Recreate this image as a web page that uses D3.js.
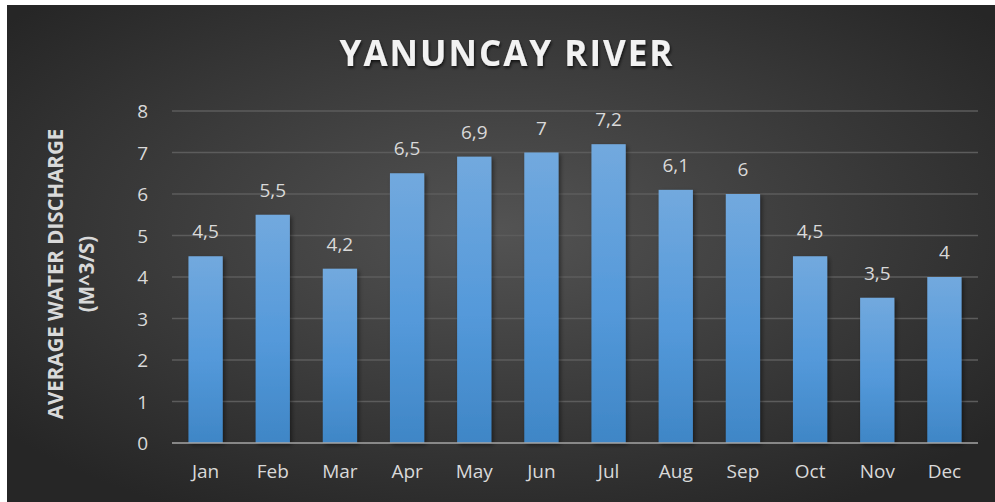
<!DOCTYPE html>
<html>
<head>
<meta charset="utf-8">
<script src="https://cdn.jsdelivr.net/npm/d3@7"></script>
<style>
  html, body { margin: 0; padding: 0; background: #fff; }
  svg { display: block; }
</style>
</head>
<body>
<script>
const months = ['Jan', 'Feb', 'Mar', 'Apr', 'May', 'Jun', 'Jul', 'Aug', 'Sep', 'Oct', 'Nov', 'Dec'];
const discharge = [4.5, 5.5, 4.2, 6.5, 6.9, 7, 7.2, 6.1, 6, 4.5, 3.5, 4];
const yTicks = [0, 1, 2, 3, 4, 5, 6, 7, 8];

const width = 995, height = 502;
const plot = { left: 172, right: 978, top: 111, bottom: 443 };
const font = "'Open Sans', 'Liberation Sans', sans-serif";

const svg = d3.select('body').append('svg')
    .attr('width', width)
    .attr('height', height);

const defs = svg.append('defs');
// panel background, lighter in the middle
const bg = defs.append('radialGradient')
    .attr('id', 'bg')
    .attr('cx', '50%').attr('cy', '45%').attr('r', '65%');
bg.append('stop').attr('offset', '0%').attr('stop-color', '#535353');
bg.append('stop').attr('offset', '100%').attr('stop-color', '#262626');

const barGrad = defs.append('linearGradient')
    .attr('id', 'bar')
    .attr('x1', 0).attr('y1', 0).attr('x2', 0).attr('y2', 1);
barGrad.append('stop').attr('offset', '0%').attr('stop-color', '#72a9de');
barGrad.append('stop').attr('offset', '55%').attr('stop-color', '#5499da');
barGrad.append('stop').attr('offset', '100%').attr('stop-color', '#3f86c6');

const shadow = defs.append('filter').attr('id', 'shadow')
    .attr('x', '-20%').attr('y', '-20%').attr('width', '150%').attr('height', '150%');
shadow.append('feDropShadow')
    .attr('dx', 2).attr('dy', 2).attr('stdDeviation', 2)
    .attr('flood-color', '#000').attr('flood-opacity', 0.45);

const textShadow = defs.append('filter').attr('id', 'tshadow');
textShadow.append('feDropShadow')
    .attr('dx', 1).attr('dy', 2).attr('stdDeviation', 1.5)
    .attr('flood-color', '#000').attr('flood-opacity', 0.7);

svg.append('rect')
    .attr('x', 7).attr('y', 5)
    .attr('width', width - 7).attr('height', height - 5)
    .attr('fill', 'url(#bg)');

const x = d3.scaleBand()
    .domain(months)
    .range([plot.left, plot.right])
    .paddingInner(0.49)
    .paddingOuter(0.245);

const y = d3.scaleLinear()
    .domain([0, 8])
    .range([plot.bottom, plot.top]);

// gridlines
svg.append('g')
    .selectAll('line')
    .data(yTicks.filter(d => d > 0))
    .join('line')
    .attr('x1', plot.left).attr('x2', plot.right)
    .attr('y1', d => y(d)).attr('y2', d => y(d))
    .attr('stroke', '#5c5c5c')
    .attr('stroke-width', 1.3);

// bars
svg.append('g')
    .selectAll('rect')
    .data(months)
    .join('rect')
    .attr('x', d => x(d))
    .attr('y', (d, i) => y(discharge[i]))
    .attr('width', x.bandwidth())
    .attr('height', (d, i) => y(0) - y(discharge[i]))
    .attr('fill', 'url(#bar)')
    .attr('filter', 'url(#shadow)');

// baseline
svg.append('line')
    .attr('x1', plot.left).attr('x2', plot.right)
    .attr('y1', y(0)).attr('y2', y(0))
    .attr('stroke', '#a6a6a6')
    .attr('stroke-width', 1.5);

// y axis
const yAxis = svg.append('g')
    .attr('transform', `translate(${plot.left - 24},0)`)
    .call(d3.axisLeft(y).tickValues(yTicks).tickSize(0).tickPadding(0));
yAxis.select('.domain').remove();
yAxis.selectAll('text')
    .attr('fill', '#d9d9d9')
    .style('font-family', font)
    .style('font-size', '19px')
    .attr('dy', '0.35em');

// x axis
const xAxis = svg.append('g')
    .attr('transform', `translate(0,${plot.bottom})`)
    .call(d3.axisBottom(x).tickSize(0).tickPadding(22));
xAxis.select('.domain').remove();
xAxis.selectAll('text')
    .attr('fill', '#d9d9d9')
    .style('font-family', font)
    .style('font-size', '19px');

// data labels
const fmt = d3.formatLocale({ decimal: ',', thousands: '.', grouping: [3], currency: ['', ''] }).format('~g');
svg.append('g')
    .selectAll('text')
    .data(months)
    .join('text')
    .attr('x', d => x(d) + x.bandwidth() / 2)
    .attr('y', (d, i) => y(discharge[i]) - 18)
    .attr('text-anchor', 'middle')
    .attr('fill', '#d9d9d9')
    .style('font-family', font)
    .style('font-size', '19px')
    .text((d, i) => fmt(discharge[i]));

// title
svg.append('text')
    .attr('x', 507)
    .attr('y', 66)
    .attr('text-anchor', 'middle')
    .attr('fill', '#f2f2f2')
    .attr('filter', 'url(#tshadow)')
    .style('font-family', font)
    .style('font-size', '35px')
    .style('font-weight', 'bold')
    .style('letter-spacing', '2px')
    .text('YANUNCAY RIVER');

// y axis title
const yTitle = svg.append('text')
    .attr('transform', 'translate(63,274) rotate(-90)')
    .attr('text-anchor', 'middle')
    .attr('fill', '#d9d9d9')
    .style('font-family', font)
    .style('font-size', '20.5px')
    .style('font-weight', 'bold');
yTitle.append('tspan').attr('x', 0).attr('dy', 0).text('AVERAGE WATER DISCHARGE');
yTitle.append('tspan').attr('x', 0).attr('dy', 31).text('(M^3/S)');
</script>
</body>
</html>
